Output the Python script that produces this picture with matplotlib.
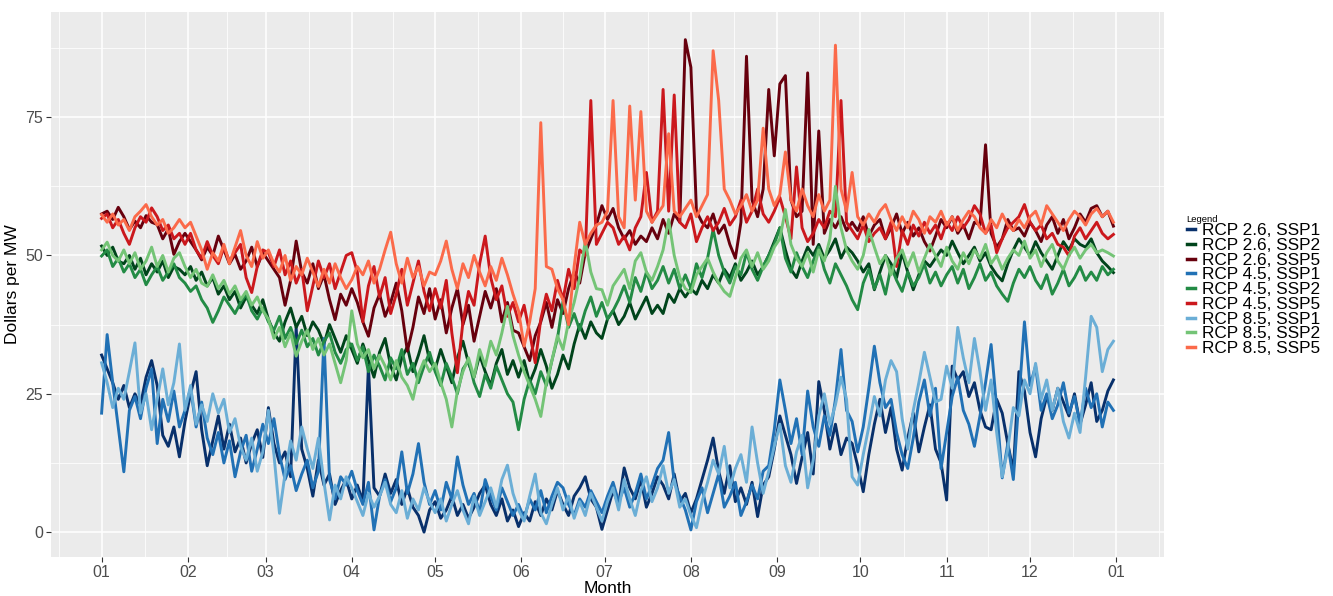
import numpy as np
import pandas as pd
import matplotlib
matplotlib.use("Agg")
import matplotlib.pyplot as plt
import matplotlib.dates as mdates

plt.rcParams['font.family'] = ['Liberation Sans', 'DejaVu Sans']

# one value every second day, Jan 1 .. Dec 31 (rows are ~one month)
rcp26_ssp1 = [
    32.0, 29.5, 27.0, 24.0, 26.5, 22.5, 25.0, 23.0, 28.0, 31.0, 26.5, 17.5, 15.5, 19.0, 13.6,
    20.0, 25.0, 29.0, 18.5, 12.0, 16.5, 21.0, 15.0, 19.5, 14.5, 17.0, 12.5, 16.0, 18.5, 13.5,
    22.5, 16.0, 12.5, 14.5, 10.0, 37.0, 15.0, 11.5, 6.5, 13.0, 8.5, 10.5, 5.0, 7.5, 9.5,
    6.0, 8.5, 5.5, 30.0, 8.0, 6.5, 10.5, 7.0, 9.5, 5.0, 8.0, 4.5, 3.0, 0.0, 4.0,
    5.5, 2.5, 4.0, 6.5, 3.0, 5.0, 2.5, 4.5, 7.0, 8.5, 5.0, 3.0, 6.0, 2.0, 4.0,
    1.0, 3.5, 2.0, 5.5, 3.0, 6.0, 4.0, 7.5, 5.0, 3.0, 6.5, 8.0, 10.0, 6.0, 4.5,
    0.5, 4.0, 7.5, 5.0, 11.6, 8.0, 6.0, 9.5, 4.5, 7.0, 10.0, 8.5, 6.0, 10.5, 5.5,
    7.0, 3.5, 6.0, 9.5, 13.0, 17.0, 11.0, 7.0, 12.0, 5.5, 8.0, 5.0, 9.0, 2.8, 8.5,
    10.0, 15.0, 21.0, 17.5, 14.0, 8.8, 13.5, 18.0, 10.5, 27.2, 22.0, 15.0, 19.5, 14.0, 17.0,
    16.0, 12.0, 7.3, 14.0, 19.5, 24.0, 18.0, 22.5, 15.0, 11.2, 17.0, 21.5, 14.5, 19.0, 23.0,
    15.0, 12.5, 5.8, 30.0, 27.5, 29.0, 24.5, 27.0, 22.0, 19.0, 18.5, 24.0, 21.5, 16.0, 11.0,
    29.0, 25.5, 18.0, 13.6, 20.5, 24.5, 22.0, 26.0, 23.5, 21.0, 25.0, 19.5, 23.0, 27.0, 20.0,
    22.0, 25.5, 27.5,
]
rcp26_ssp2 = [
    51.7, 50.0, 51.5, 49.0, 48.5, 50.0, 47.5, 49.5, 46.5, 48.5, 47.0, 49.0, 46.0, 48.0, 47.5,
    46.5, 48.0, 45.5, 47.0, 44.5, 46.0, 43.0, 44.5, 42.0, 43.5, 40.5, 42.5, 41.0, 39.5, 42.0,
    38.5, 36.0, 34.5, 38.0, 40.5, 37.0, 39.0, 35.5, 38.0, 36.5, 34.0, 37.5, 35.0, 32.5, 35.5,
    33.0, 30.5, 34.0, 31.0, 28.0, 32.5, 35.0, 30.0, 27.5, 31.5, 33.5, 29.0, 32.0, 35.5, 31.0,
    29.5, 33.0, 30.0, 27.0, 31.5, 34.5, 30.5, 28.0, 32.0, 29.0, 26.5, 30.5, 33.0, 28.5, 31.0,
    28.0, 31.0, 27.0, 29.5, 33.0, 30.0, 26.0, 28.5, 32.0, 29.5, 34.0, 37.5, 35.0, 38.0, 36.0,
    35.0, 38.5, 40.0, 37.5, 39.0, 41.5, 38.5, 40.5, 42.5, 39.5, 41.0, 39.5, 43.0, 41.5, 44.0,
    42.5, 44.0, 43.0, 45.5, 44.0, 46.5, 45.0, 47.5, 46.0, 48.5, 45.5, 47.0, 49.0, 46.5, 48.0,
    50.0, 52.5, 55.0, 51.0, 47.5, 46.0, 49.0, 51.5, 50.0, 52.0, 49.5, 51.0, 53.0, 49.5, 51.5,
    50.5, 49.0, 47.0, 48.5, 43.8, 47.0, 50.0, 48.5, 46.0, 50.5, 47.0, 43.8, 46.5, 49.0, 48.0,
    49.5, 51.0, 50.0, 52.6, 50.5, 48.5, 50.0, 51.5, 49.0, 50.5, 48.0, 46.5, 45.4, 48.5, 51.0,
    53.0, 51.5, 50.0, 52.5, 50.5, 49.0, 47.5, 50.0, 52.5, 51.0, 53.0, 52.0, 51.5, 53.0, 50.5,
    49.0, 48.0, 46.9,
]
rcp26_ssp5 = [
    57.5, 58.0, 56.5, 58.7, 57.0, 54.7, 56.2, 55.0, 57.2, 56.0, 55.6, 53.0, 54.8, 50.2, 52.5,
    54.0, 52.5, 51.0, 49.2, 51.5, 50.0, 53.5, 51.0, 48.5, 50.2, 47.5, 49.0, 51.5, 48.0, 50.5,
    49.0, 47.5, 46.0, 41.0, 45.5, 52.6, 47.0, 45.0, 48.5, 44.0, 46.5, 42.0, 38.4, 43.0, 41.0,
    44.0, 41.5, 38.0, 35.4, 40.5, 43.0, 39.0, 41.5, 45.0, 40.0, 32.7, 37.0, 42.5, 39.5, 44.0,
    38.5, 42.0, 36.0, 40.5, 44.0, 37.5, 41.0, 34.5, 39.0, 43.5, 40.5, 44.0, 38.0, 41.5, 36.5,
    36.0, 33.5, 31.0, 35.5, 38.0, 41.5, 37.0, 42.0, 39.5, 44.0, 47.0, 45.0, 50.5, 53.0, 55.5,
    59.0, 56.5, 58.5, 55.0, 53.0, 54.5, 52.0, 53.5, 52.5, 55.0, 53.0, 56.5, 54.0, 57.5, 56.0,
    89.0, 84.0, 58.0, 56.0, 55.0, 57.5, 54.0, 55.5, 52.0, 49.5, 56.0, 86.0, 60.0, 57.0, 62.0,
    80.0, 68.0, 81.0, 82.5, 60.0, 57.0, 58.0, 83.0, 52.0, 72.5, 54.0, 56.5, 55.0, 57.0, 54.5,
    56.0, 54.5, 57.0, 53.5, 55.5, 56.5, 53.0, 55.0, 57.5, 54.0, 56.0, 53.5, 55.0, 52.5, 50.8,
    53.5, 56.5, 55.0, 57.0, 54.0, 55.5, 53.0, 56.0, 55.5, 70.0, 54.0, 51.5, 53.0, 56.5, 54.5,
    55.0, 53.5, 56.0, 54.5, 52.5, 55.5, 57.0, 54.0, 56.5, 53.0, 55.0, 57.5, 56.0, 58.5, 59.0,
    57.0, 58.0, 55.3,
]
rcp45_ssp1 = [
    21.5, 35.7, 27.0, 19.0, 10.9, 22.0, 24.5, 20.5, 26.0, 29.5, 16.0, 24.0, 20.0, 25.5, 19.0,
    22.0, 26.0, 19.0, 23.5, 17.0, 14.0, 18.0, 12.5, 16.5, 10.0, 14.5, 17.5, 11.0, 15.0, 19.5,
    16.0, 20.5, 14.0, 9.5, 12.0, 7.5, 10.5, 13.0, 8.0, 11.0, 35.0, 9.5, 6.0, 10.0, 8.5,
    11.0, 7.5, 5.0, 9.0, 0.4, 6.5, 9.5, 5.5, 8.0, 14.5, 7.0, 10.5, 16.0, 9.0, 5.0,
    7.5, 4.0, 9.0, 6.0, 13.6, 8.5, 5.0, 7.0, 3.5, 9.5, 6.5, 4.0, 8.0, 5.5, 3.0,
    5.0, 2.5, 6.0, 4.0, 7.5, 3.5, 6.5, 9.0, 8.0, 5.0, 3.0, 6.0, 4.5, 7.5, 5.5,
    3.5, 6.5, 9.0, 5.5, 8.0, 4.5, 7.0, 10.5, 6.0, 8.5, 11.5, 13.0, 18.0, 9.0, 6.5,
    4.0, 0.4, 5.5, 8.0, 3.5, 7.0, 10.5, 4.5, 6.5, 9.0, 3.0, 5.5, 8.5, 6.0, 11.0,
    12.0, 18.5, 27.5, 22.0, 16.0, 20.5, 14.0, 25.5, 19.0, 15.5, 21.0, 17.5, 24.0, 33.0, 22.0,
    20.0, 14.5, 19.0, 26.0, 33.6, 27.0, 22.5, 24.0, 18.0, 14.0, 11.5, 17.0, 23.5, 27.5, 21.0,
    26.0, 11.5, 18.0, 24.5, 28.0, 22.0, 19.5, 15.5, 21.0, 27.0, 33.9, 22.5, 9.8, 16.0, 9.5,
    24.0, 38.0, 26.5, 30.0, 22.0, 25.0, 20.5, 23.0, 27.0, 21.5, 24.5, 19.5, 26.0, 22.5, 25.0,
    19.0, 23.5, 22.0,
]
rcp45_ssp2 = [
    49.9, 51.0, 48.0, 49.5, 47.0, 48.5, 46.0, 47.5, 44.7, 46.5, 48.0, 45.5, 47.0, 48.5, 46.0,
    45.0, 43.5, 44.5, 42.0, 40.5, 37.9, 40.0, 42.5, 41.0, 39.5, 41.5, 43.0, 40.0, 38.5, 40.5,
    38.0, 36.5, 39.0, 35.0, 37.0, 34.0, 36.5, 33.5, 35.0, 32.0, 34.5, 36.0, 32.5, 30.5, 33.0,
    34.0, 31.0, 33.5, 29.0, 32.0, 30.0, 27.5, 31.5, 29.5, 33.0, 28.5, 30.5, 27.0, 30.0, 32.5,
    29.0, 26.5, 30.5, 28.0, 25.0, 29.5, 31.0, 27.0, 24.5, 28.5, 26.0, 30.0, 27.5, 25.0, 23.5,
    18.5, 24.0, 27.5, 25.0, 29.0, 26.5, 31.0, 35.0, 41.7, 37.0, 39.5, 36.5, 40.0, 42.5, 39.0,
    41.5, 38.5, 40.0, 42.0, 44.5, 41.5, 46.0, 43.5, 47.0, 44.0, 45.5, 48.0, 45.0, 47.5, 44.0,
    46.5, 44.0, 48.5, 46.0, 49.5, 54.7, 50.0, 47.0, 45.0, 48.0, 46.5, 50.5, 47.5, 45.5, 48.0,
    50.0, 52.0, 55.0, 49.5, 47.0, 50.5, 48.0, 46.0, 49.0, 51.5, 47.5, 45.0, 48.5, 46.5, 44.5,
    42.0, 40.2, 45.0, 47.5, 44.0, 46.5, 43.0, 48.0, 45.5, 43.5, 47.0, 44.5, 46.0, 48.5, 45.0,
    47.0, 44.5, 46.5, 48.0, 45.0, 47.5, 44.0, 46.0, 48.5, 45.5, 47.0, 44.5, 43.0, 41.7, 45.0,
    47.5, 46.0, 48.0, 45.5, 44.0, 46.5, 43.0, 45.0, 47.5, 44.5, 46.0, 48.0, 45.5, 47.0, 45.5,
    48.0, 46.5, 47.5,
]
rcp45_ssp5 = [
    56.7, 57.5, 55.0, 56.5, 54.0, 52.0, 55.0, 57.0, 56.0, 58.6, 57.0, 54.5, 55.5, 53.0, 54.0,
    52.0, 54.0, 51.0, 49.5, 52.5, 50.0, 48.5, 51.5, 49.0, 50.5, 52.0, 46.0, 43.3, 48.0, 51.0,
    50.5, 48.0, 51.0, 46.5, 49.0, 45.0, 47.5, 40.0, 44.5, 49.0, 46.0, 48.5, 44.0, 47.0, 50.0,
    50.5, 47.0, 38.0, 44.5, 48.0, 42.5, 46.0, 39.5, 43.0, 47.5, 41.0, 45.0, 49.0, 43.5, 40.0,
    44.0, 40.5, 45.5, 36.0, 28.8, 38.0, 43.5, 41.0, 48.5, 53.5, 46.0, 42.0, 44.5, 39.0, 41.5,
    38.0, 41.0, 36.0, 30.6, 38.5, 43.0, 40.0, 45.5, 42.0, 47.5, 44.0, 51.0, 50.0, 78.0, 52.0,
    54.0, 56.0, 55.0, 52.0, 53.5, 51.0, 55.0, 57.0, 65.0, 56.0, 58.0, 80.0, 58.0, 79.0, 56.0,
    55.0, 57.5, 52.5, 55.0, 57.0, 54.5, 56.0, 58.5, 55.5, 57.0, 60.0, 56.0, 58.0, 62.0, 57.5,
    56.0, 58.0, 60.5, 57.0, 53.0, 66.0, 55.0, 52.5, 54.0, 56.5, 55.0, 58.0, 57.0, 78.0, 56.0,
    54.5, 53.0, 55.5, 52.5, 54.0, 55.0, 53.0, 56.0, 48.0, 54.5, 52.0, 55.5, 53.5, 56.0, 54.0,
    55.5, 53.0, 56.0, 54.5, 57.0, 55.0, 56.5, 59.0, 57.5, 54.0, 55.5, 50.5, 53.0, 55.0, 56.0,
    57.0, 59.2, 56.0, 54.5, 55.5, 53.0, 54.0, 52.0, 51.5, 49.9, 53.5, 55.0, 53.0, 54.5, 56.0,
    54.0, 53.0, 53.8,
]
rcp85_ssp1 = [
    30.6, 27.0, 22.5, 26.0, 24.0, 29.0, 34.2, 21.5, 25.0, 18.5, 24.0, 29.5, 23.0, 27.0, 34.0,
    22.0, 26.5, 19.5, 23.0, 20.0, 25.0, 21.5, 24.0, 18.0, 20.5, 15.5, 13.0, 17.0, 11.0, 14.5,
    22.0, 14.0, 3.4, 10.5, 16.5, 13.0, 19.0, 15.0, 11.5, 17.0, 9.0, 2.2, 8.5, 6.0, 10.0,
    8.0, 5.5, 3.0, 7.0, 4.5, 6.5, 9.0, 5.0, 3.5, 7.5, 2.5, 6.0, 4.0, 8.0, 5.5,
    3.5, 6.0, 2.0, 5.0, 7.5, 4.0, 1.5, 6.5, 3.0, 5.5, 8.0, 4.5, 9.5, 12.1, 7.0,
    4.0, 2.0, 6.5, 10.5, 3.5, 1.5, 5.0, 8.0, 4.0, 6.5, 2.5, 5.5, 3.0, 7.0, 4.5,
    2.0, 5.5, 8.0, 4.0, 9.5, 6.0, 3.0, 7.5, 10.0, 5.5, 8.0, 12.0, 7.0, 9.5, 4.5,
    6.0, 3.0, 0.8, 5.5, 9.0, 13.0, 10.5, 15.5, 8.0, 11.5, 14.0, 9.0, 19.0, 12.5, 7.0,
    11.0, 15.5, 19.5, 12.0, 9.0, 14.5, 17.5, 8.0, 13.0, 21.0, 25.0, 19.5, 23.0, 28.0, 24.0,
    10.0, 8.5, 14.0, 19.0, 24.5, 21.0, 27.5, 31.0, 29.0, 20.5, 15.0, 22.0, 27.0, 32.5, 28.0,
    23.5, 24.0, 30.0, 26.0, 37.0, 31.5, 27.0, 35.0, 29.0, 22.0, 27.5, 18.0, 10.0, 15.0, 22.5,
    21.0, 27.5, 25.0, 30.5, 24.0, 27.5, 22.0, 26.0, 20.0, 17.0, 21.5, 18.0, 28.0, 39.0, 37.0,
    29.0, 33.0, 34.5,
]
rcp85_ssp2 = [
    51.0, 52.4, 50.0, 49.0, 51.0, 48.5, 50.5, 47.5, 49.0, 51.5, 48.0, 50.0, 47.0, 49.5, 50.5,
    48.0, 46.0, 47.5, 45.0, 44.4, 46.5, 44.0, 45.5, 43.0, 44.5, 42.0, 43.5, 41.0, 42.5, 40.0,
    38.5, 35.0, 37.0, 33.5, 36.0, 31.8, 34.5, 36.5, 33.0, 35.0, 32.0, 34.0, 30.5, 27.0, 31.0,
    40.0, 34.0, 31.5, 33.0, 29.5, 32.0, 30.0, 27.5, 31.0, 28.0, 26.5, 24.0, 28.5, 31.0, 29.0,
    30.5, 27.0, 24.0, 19.0, 25.5, 29.0, 31.5, 28.0, 33.0, 30.0, 34.5, 32.0, 36.0, 40.8, 35.5,
    32.0, 29.0, 26.5, 24.0, 20.9, 27.0, 31.0, 35.5, 33.0, 38.0, 41.5, 46.0, 52.6, 47.0, 44.0,
    43.8, 41.0, 44.5, 46.0, 47.5, 44.0, 49.0, 50.5, 47.0, 45.5, 48.0, 51.0, 56.5, 50.0, 46.0,
    44.0, 43.3, 46.5, 48.0, 49.5, 47.0, 45.0, 43.5, 42.6, 46.0, 49.5, 51.0, 48.0, 50.5, 47.5,
    49.0, 51.5, 53.0, 58.3, 52.0, 49.5, 48.0, 50.5, 47.0, 51.0, 49.0, 53.0, 62.5, 55.0, 51.0,
    49.0, 47.5, 50.0, 54.7, 51.5, 48.5, 50.0, 46.5, 49.5, 51.0, 48.0, 50.5, 47.0, 49.5, 52.0,
    50.0, 48.0, 51.5, 49.0, 47.5, 50.5, 48.5, 51.0, 49.5, 52.0, 48.5, 50.0, 47.5, 49.5, 51.0,
    50.0, 52.6, 49.5, 51.0, 48.0, 50.5, 52.0, 49.0, 47.5, 50.0, 51.5, 49.5, 51.0, 52.0, 50.5,
    51.0, 50.5, 49.9,
]
rcp85_ssp5 = [
    57.4, 56.0, 57.5, 55.5, 56.5, 54.5, 57.0, 58.0, 59.2, 57.0, 55.5, 56.5, 54.0, 55.0, 56.5,
    55.0, 56.0, 53.5, 51.0, 47.5, 50.5, 49.0, 52.0, 48.5, 51.5, 54.5, 50.0, 48.0, 52.5, 49.5,
    51.0, 48.5, 47.0, 50.0, 45.5, 48.0, 46.5, 49.5, 47.0, 44.4, 47.5, 45.0, 48.5, 46.0, 44.0,
    45.6, 48.0, 46.5, 49.0, 45.0, 47.5, 51.0, 54.2, 48.5, 45.0, 49.5, 46.0, 48.0, 44.5, 47.0,
    46.5, 49.0, 52.6, 47.5, 44.0, 48.5, 46.0, 50.0, 47.0, 44.5, 48.0, 45.5, 49.5, 46.5, 43.0,
    40.0, 33.6, 38.0, 44.0, 74.0, 48.0, 47.5, 44.0, 42.0, 37.5, 48.0, 56.0, 52.0, 54.0, 55.5,
    56.0, 58.0, 78.0, 57.0, 55.0, 77.0, 60.0, 76.0, 58.0, 56.0, 57.5, 59.0, 72.0, 58.0, 57.0,
    58.5, 60.0, 57.0, 59.0, 61.0, 87.0, 78.0, 62.0, 60.0, 57.5, 59.0, 61.0, 58.0, 60.0, 73.0,
    62.0, 59.0, 61.0, 68.7, 60.0, 58.0, 62.0, 59.0, 57.0, 61.0, 58.0, 60.0, 88.0, 62.0, 58.0,
    65.0, 57.0, 55.5, 57.5, 56.0, 58.0, 59.2, 56.5, 54.5, 57.0, 55.0, 58.0, 56.5, 54.0, 57.0,
    56.0, 58.0, 55.5, 57.0, 54.5, 56.5, 58.0, 57.0, 55.0, 54.0, 56.5, 55.0, 57.5, 55.5, 54.5,
    56.5, 55.0, 57.0, 58.0, 55.5, 59.0, 57.5, 56.0, 54.5, 56.5, 58.0, 57.0, 55.5, 57.5, 58.5,
    57.0, 58.0, 56.0,
]

labels = ['RCP 2.6, SSP1', 'RCP 2.6, SSP2', 'RCP 2.6, SSP5',
          'RCP 4.5, SSP1', 'RCP 4.5, SSP2', 'RCP 4.5, SSP5',
          'RCP 8.5, SSP1', 'RCP 8.5, SSP2', 'RCP 8.5, SSP5']
colors = ['#08306B', '#00441B', '#67000D',
          '#2171B5', '#238B45', '#CB181D',
          '#6BAED6', '#74C476', '#FB6A4A']
series = [rcp26_ssp1, rcp26_ssp2, rcp26_ssp5,
          rcp45_ssp1, rcp45_ssp2, rcp45_ssp5,
          rcp85_ssp1, rcp85_ssp2, rcp85_ssp5]

start = pd.Timestamp('2021-01-01')
end = pd.Timestamp('2022-01-01')

fig = plt.figure(figsize=(13.33, 5.96), dpi=100)
ax = fig.add_axes([51/1333, 1-557/596, (1164-51)/1333, (557-12)/596])
ax.set_facecolor('#EBEBEB')
for s in ax.spines.values():
    s.set_visible(False)

for vals, lab, col in zip(series, labels, colors):
    dates = pd.date_range(start, periods=len(vals), freq='2D')
    ax.plot(dates, vals, color=col, lw=2.1, label=lab, solid_joinstyle='round')

# ggplot-like expansion of the limits (5%)
span = 364
ax.set_xlim(mdates.date2num(start) - 0.05*span, mdates.date2num(start) + 1.05*span)
ax.set_ylim(-4.5, 94.0)

months = pd.date_range(start, end, freq='MS')
mnum = mdates.date2num(months)
mids = (mnum[:-1] + mnum[1:]) / 2
minor_x = np.concatenate([[mnum[0] - 15.5], mids, [mnum[-1] + 15.5]])
ax.set_xticks(mnum)
ax.set_xticklabels([m.strftime('%m') for m in months])
ax.set_xticks(minor_x, minor=True)
ax.set_yticks([0, 25, 50, 75])
ax.set_yticks([12.5, 37.5, 62.5, 87.5], minor=True)

ax.grid(which='major', color='white', lw=1.1)
ax.grid(which='minor', color='white', lw=0.55)
ax.set_axisbelow(True)
ax.tick_params(which='major', length=3.5, width=0.8, color='#333333',
               labelcolor='#4D4D4D', labelsize=11.5, pad=2)
ax.tick_params(which='minor', length=0)

ax.set_xlabel('Month', fontsize=12.5, labelpad=1)
ax.set_ylabel('Dollars per MW', fontsize=12.5, labelpad=4)

leg = fig.legend(loc='upper left', bbox_to_anchor=(1178/1333, 1-206/596),
                 frameon=False, fontsize=12.4, title='Legend', title_fontsize=6.8,
                 handlelength=0.5, handletextpad=0.4, labelspacing=-0.02,
                 borderpad=0, alignment='left')
for h in leg.get_lines():
    h.set_linewidth(2.5)

fig.savefig('out.png', dpi=100)
